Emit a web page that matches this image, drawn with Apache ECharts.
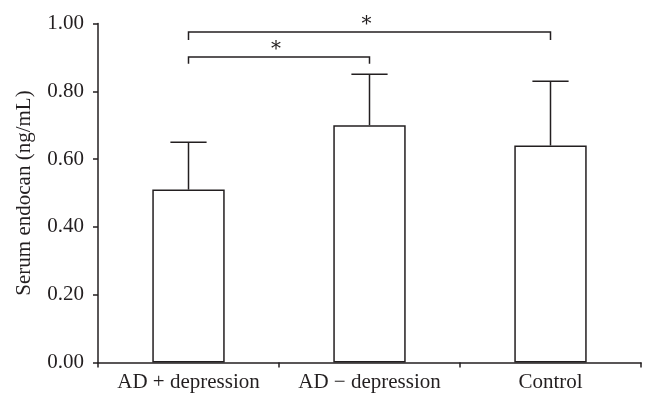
<!DOCTYPE html>
<html>
<head>
<meta charset="utf-8">
<script src="https://cdn.jsdelivr.net/npm/echarts@6/dist/echarts.min.js"></script>
<style>
html,body{margin:0;padding:0;background:#fff;}
#c{width:657px;height:410px;}
</style>
</head>
<body>
<div id="c"></div>
<script>
var categories = ['AD + depression', 'AD \u2212 depression', 'Control'];
var means = [0.51, 0.70, 0.64];
var errorTops = [0.65, 0.85, 0.83];
var yTicks = [0, 0.2, 0.4, 0.6, 0.8, 1.0];
// brackets: from category, to category, bracket level, tick end, label
var bracketFrom = [0, 0];
var bracketTo = [1, 2];
var bracketLevel = [0.901, 0.975];
var bracketTickEnd = [0.881, 0.951];
var bracketLabel = ['*', '*'];

var ink = '#231f20';
var font = '"Liberation Serif", "DejaVu Serif", serif';

var errData = categories.map(function (c, i) { return [i, means[i], errorTops[i]]; });
var brData = bracketFrom.map(function (f, i) {
  return [f, bracketTo[i], bracketLevel[i], bracketTickEnd[i]];
});

var chart = echarts.init(document.getElementById('c'), null, {renderer: 'canvas'});
chart.setOption({
  animation: false,
  backgroundColor: '#fff',
  grid: {left: 98, right: 16, top: 23.5, bottom: 47.5},
  xAxis: {
    type: 'category',
    data: categories,
    boundaryGap: true,
    axisLine: {lineStyle: {color: ink, width: 1.5}},
    axisTick: {show: true, length: 5, lineStyle: {color: ink, width: 1.5}},
    axisLabel: {color: ink, fontFamily: font, fontSize: 21, margin: 9, interval: 0, hideOverlap: false}
  },
  yAxis: {
    type: 'value',
    min: 0, max: 1, interval: 0.2,
    name: 'Serum endocan (ng/mL)',
    nameLocation: 'middle',
    nameGap: 63,
    nameTextStyle: {color: ink, fontFamily: font, fontSize: 21},
    axisLine: {show: true, lineStyle: {color: ink, width: 1.5}},
    axisTick: {show: true, length: 5, lineStyle: {color: ink, width: 1.5}},
    axisLabel: {
      color: ink, fontFamily: font, fontSize: 21, margin: 14,
      formatter: function (v) { return v.toFixed(2); }
    },
    splitLine: {show: false}
  },
  series: [
    {
      type: 'bar',
      data: means,
      barWidth: '40%',
      itemStyle: {color: '#fff', borderColor: ink, borderWidth: 1.5},
      z: 2
    },
    {
      type: 'custom',
      data: errData,
      encode: {x: 0, y: [1, 2]},
      z: 3,
      renderItem: function (params, api) {
        var x = api.value(0);
        var p0 = api.coord([x, api.value(1)]);
        var p1 = api.coord([x, api.value(2)]);
        var hw = api.size([1, 0])[0] * 0.1;
        var st = {stroke: ink, lineWidth: 1.5, fill: null};
        return {
          type: 'group',
          children: [
            {type: 'line', shape: {x1: p0[0], y1: p0[1], x2: p1[0], y2: p1[1]}, style: st},
            {type: 'line', shape: {x1: p1[0] - hw, y1: p1[1], x2: p1[0] + hw, y2: p1[1]}, style: st}
          ]
        };
      }
    },
    {
      type: 'custom',
      data: brData,
      encode: {x: [0, 1], y: [2, 3]},
      z: 3,
      clip: false,
      renderItem: function (params, api) {
        var a = api.coord([api.value(0), api.value(2)]);
        var b = api.coord([api.value(1), api.value(2)]);
        var ta = api.coord([api.value(0), api.value(3)]);
        var tb = api.coord([api.value(1), api.value(3)]);
        var st = {stroke: ink, lineWidth: 1.5, fill: null};
        return {
          type: 'group',
          children: [
            {type: 'polyline', shape: {points: [[ta[0], ta[1]], [a[0], a[1]], [b[0], b[1]], [tb[0], tb[1]]]}, style: st},
            {type: 'text', x: (a[0] + b[0]) / 2 - 3, y: a[1] + 3,
              style: {text: bracketLabel[params.dataIndex], fill: ink, font: '20px "DejaVu Serif", serif', textAlign: 'center', textVerticalAlign: 'bottom'}}
          ]
        };
      }
    }
  ]
});
</script>
</body>
</html>
